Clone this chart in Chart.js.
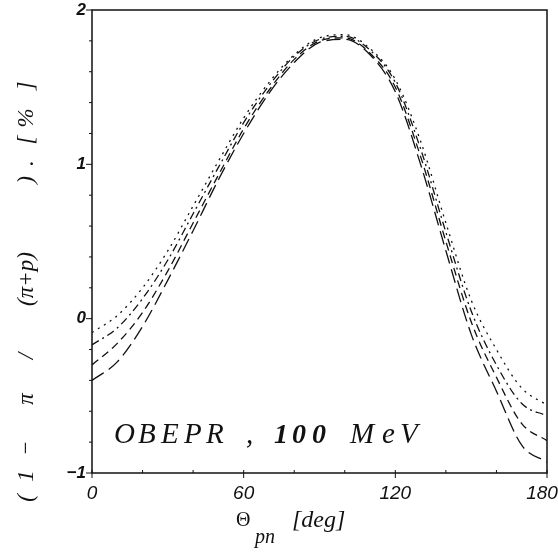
<!DOCTYPE html>
<html>
<head>
<meta charset="utf-8">
<script src="https://cdn.jsdelivr.net/npm/chart.js@4"></script>
<style>
  body { margin: 0; background: #ffffff; }
  #wrap { width: 558px; height: 559px; }
</style>
</head>
<body>
<div id="wrap"><canvas id="myChart" width="558" height="559"></canvas></div>
<script>
// angle of the proton-neutron pair, deg
const angles = [0, 10, 20, 30, 40, 50, 60, 70, 80, 90, 100, 110, 120, 130, 140, 150, 160, 170, 180];

// four model curves (percent)
const dottedCurve  = [-0.09, 0.02, 0.20, 0.44, 0.73, 1.02, 1.30, 1.53, 1.71, 1.82, 1.84, 1.75, 1.55, 1.15, 0.62, 0.12, -0.20, -0.45, -0.56];
const dashDotCurve = [-0.17, -0.06, 0.13, 0.38, 0.68, 0.98, 1.27, 1.51, 1.70, 1.81, 1.83, 1.74, 1.53, 1.10, 0.56, 0.05, -0.30, -0.55, -0.63];
const dashCurve    = [-0.30, -0.16, 0.04, 0.31, 0.62, 0.93, 1.23, 1.48, 1.68, 1.80, 1.82, 1.72, 1.50, 1.05, 0.50, -0.02, -0.38, -0.68, -0.79];
const longDashCurve= [-0.40, -0.28, -0.05, 0.25, 0.57, 0.90, 1.20, 1.46, 1.66, 1.79, 1.81, 1.71, 1.47, 1.00, 0.44, -0.10, -0.47, -0.82, -0.93];

const xTickLabels = [0, 60, 120, 180];
const yTickLabels = [-1, 0, 1, 2];
const xMinorStep = 20;
const yMinorStep = 0.2;

function toPoints(values) {
    const pts = [];
    for (let i = 0; i < angles.length; i++) {
        pts.push({ x: angles[i], y: values[i] });
    }
    return pts;
}

function makeSet(values, dash) {
    return {
        data: toPoints(values),
        borderColor: '#111',
        borderWidth: 1.3,
        borderDash: dash,
        pointRadius: 0,
        fill: false,
        cubicInterpolationMode: 'monotone'
    };
}

// frame, ticks, titles and the note inside the plot
const decorations = {
    id: 'decorations',
    afterDraw(chart) {
        const ctx = chart.ctx;
        const area = chart.chartArea;
        const xs = chart.scales.x;
        const ys = chart.scales.y;
        ctx.save();
        ctx.strokeStyle = '#111';
        ctx.fillStyle = '#111';
        ctx.lineWidth = 1.5;
        ctx.strokeRect(area.left, area.top, area.right - area.left, area.bottom - area.top);

        ctx.lineWidth = 1;
        // y ticks
        for (let v = -1; v <= 2.001; v += yMinorStep) {
            const y = ys.getPixelForValue(v);
            const major = Math.abs(v - Math.round(v)) < 0.01;
            ctx.beginPath();
            ctx.moveTo(area.left - (major ? 6 : 3), y);
            ctx.lineTo(area.left, y);
            ctx.stroke();
        }
        // x ticks
        for (let a = 0; a <= 180; a += xMinorStep) {
            const x = xs.getPixelForValue(a);
            const major = a % 60 === 0;
            ctx.beginPath();
            ctx.moveTo(x, area.bottom - 3);
            ctx.lineTo(x, area.bottom + (major ? 5 : 0));
            ctx.stroke();
        }

        // tick labels
        ctx.font = 'italic bold 17px "Liberation Sans"';
        ctx.textAlign = 'right';
        ctx.textBaseline = 'middle';
        yTickLabels.forEach(function (v) {
            ctx.fillText(v < 0 ? '\u2212' + Math.abs(v) : String(v), area.left - 6, ys.getPixelForValue(v));
        });
        ctx.font = 'italic 19px "Liberation Sans"';
        ctx.textAlign = 'center';
        ctx.textBaseline = 'top';
        xTickLabels.forEach(function (a) {
            let x = xs.getPixelForValue(a);
            if (a === 180) { x -= 5; }
            ctx.fillText(String(a), x, area.bottom + 11);
        });

        // x title
        ctx.textAlign = 'left';
        ctx.textBaseline = 'alphabetic';
        ctx.font = '20px "Liberation Serif"';
        ctx.fillText('\u0398', 236, 526);
        ctx.font = 'italic 20px "Liberation Serif"';
        ctx.fillText('pn', 255, 543);
        ctx.font = 'italic 24px "Liberation Serif"';
        ctx.fillText('[deg]', 292, 527);

        // y title, rotated pieces
        const yPieces = [
            ['(', 498], ['1', 476], ['\u2212', 448], ['\u03c0', 399], ['/', 356],
            ['(\u03c0+p)', 279], [')', 180], ['.', 163], ['[', 140], ['%', 118], [']', 86]
        ];
        ctx.font = 'italic 23px "Liberation Serif"';
        ctx.textAlign = 'center';
        yPieces.forEach(function (p) {
            ctx.save();
            ctx.translate(33, p[1]);
            ctx.rotate(-Math.PI / 2);
            ctx.fillText(p[0], 0, 0);
            ctx.restore();
        });

        // note
        ctx.textAlign = 'left';
        ctx.font = 'italic 29px "Liberation Serif"';
        ctx.fillText('O', 114, 443);
        ctx.fillText('B', 138, 443);
        ctx.fillText('E', 161, 443);
        ctx.fillText('P', 184, 443);
        ctx.fillText('R', 206, 443);
        ctx.fillText(',', 246, 443);
        ctx.fillText('M', 350, 443);
        ctx.fillText('e', 382, 443);
        ctx.fillText('V', 400, 443);
        ctx.font = 'italic bold 28px "Liberation Serif"';
        ctx.fillText('1', 274, 443);
        ctx.fillText('0', 292, 443);
        ctx.fillText('0', 312, 443);
        ctx.restore();
    }
};

var ctx = document.getElementById('myChart').getContext('2d');
var myChart = new Chart(ctx, {
    type: 'line',
    data: {
        datasets: [
            makeSet(dottedCurve, [2, 5]),
            makeSet(dashDotCurve, [8, 4, 2, 4]),
            makeSet(dashCurve, [8, 5]),
            makeSet(longDashCurve, [14, 6])
        ]
    },
    options: {
        responsive: false,
        animation: false,
        layout: { padding: { top: 10, right: 11, left: 0, bottom: 0 } },
        plugins: { legend: { display: false }, tooltip: { enabled: false } },
        scales: {
            x: {
                type: 'linear', min: 0, max: 180,
                ticks: { display: false },
                grid: { display: false },
                border: { display: false },
                afterFit: function (s) { s.height = 86; }
            },
            y: {
                min: -1, max: 2,
                ticks: { display: false },
                grid: { display: false },
                border: { display: false },
                afterFit: function (s) { s.width = 92; }
            }
        }
    },
    plugins: [decorations]
});
</script>
</body>
</html>
